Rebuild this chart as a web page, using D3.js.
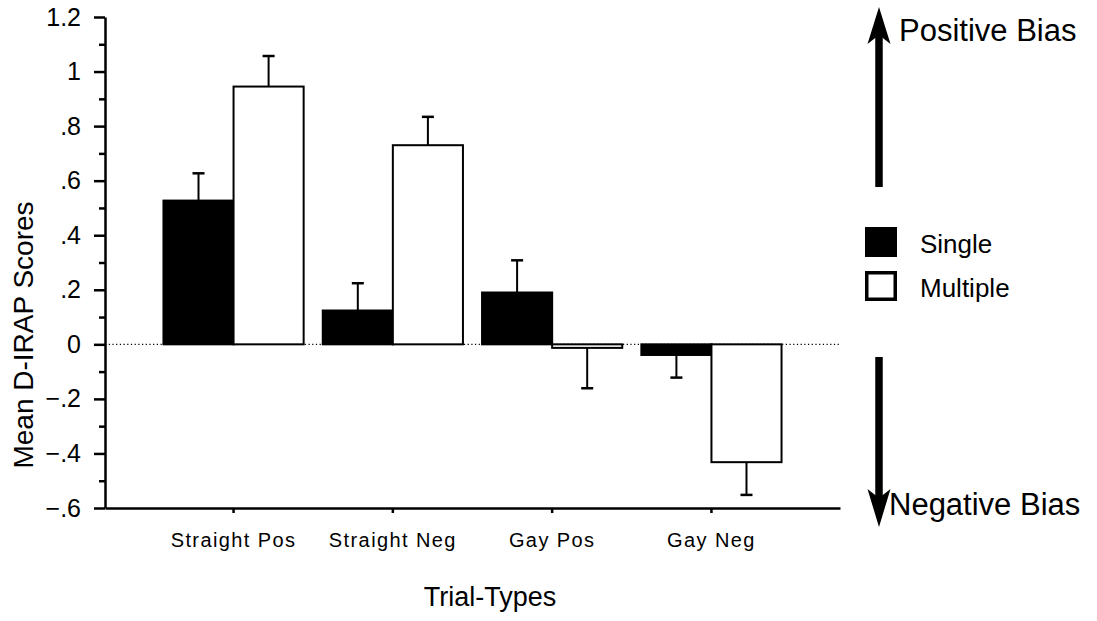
<!DOCTYPE html>
<html>
<head>
<meta charset="utf-8">
<script src="https://cdn.jsdelivr.net/npm/d3@7"></script>
<style>
  body { margin: 0; background: #fff; }
  text { font-family: "Liberation Sans", Arial, sans-serif; fill: #000; }
</style>
</head>
<body>
<div id="chart"></div>
<script>
// data
var categories = ["Straight Pos", "Straight Neg", "Gay Pos", "Gay Neg"];
var series = ["Single", "Multiple"];
var singleMeans = [0.527, 0.124, 0.19, -0.039];
var singleErr = [0.10, 0.10, 0.118, 0.083];
var multipleMeans = [0.945, 0.73, -0.013, -0.432];
var multipleErr = [0.112, 0.104, 0.148, 0.12];
var yTicks = [-0.6, -0.4, -0.2, 0, 0.2, 0.4, 0.6, 0.8, 1, 1.2];
var yMinorTicks = [-0.5, -0.3, -0.1, 0.1, 0.3, 0.5, 0.7, 0.9, 1.1];

var width = 1097, height = 621;
var plotLeft = 105, plotRight = 840, plotTop = 17, plotBottom = 508;

var svg = d3.select("#chart").append("svg")
    .attr("width", width)
    .attr("height", height);

// scales
var x0 = d3.scaleBand()
    .domain(categories)
    .range([plotLeft, plotRight])
    .paddingInner(0.12)
    .paddingOuter(0.367);
var x1 = d3.scaleBand()
    .domain(series)
    .range([0, x0.bandwidth()]);
var y = d3.scaleLinear()
    .domain([-0.6, 1.2])
    .range([plotBottom, plotTop]);

var fmt = function(d) {
  if (d === 0) return "0";
  var s = d3.format("")(+d.toFixed(1));
  return s.replace("0.", ".");
};

// build rows
var rows = [];
categories.forEach(function(c, i) {
  rows.push({cat: c, ser: "Single", v: singleMeans[i], e: singleErr[i]});
  rows.push({cat: c, ser: "Multiple", v: multipleMeans[i], e: multipleErr[i]});
});

function cx(d) { return x0(d.cat) + x1(d.ser) + x1.bandwidth() / 2; }
function errEnd(d) { return y(d.v >= 0 ? d.v + d.e : d.v - d.e); }

// zero line (dotted)
svg.append("line")
    .attr("x1", plotLeft).attr("x2", plotRight)
    .attr("y1", y(0)).attr("y2", y(0))
    .attr("stroke", "#000")
    .attr("stroke-width", 1.2)
    .attr("stroke-dasharray", "1.2,2.5");

// error bars (one-sided, away from zero)
var eb = svg.append("g").selectAll("g.err")
    .data(rows)
  .enter().append("g")
    .attr("class", "err");
eb.append("line")
    .attr("x1", cx).attr("x2", cx)
    .attr("y1", function(d) { return y(d.v); })
    .attr("y2", errEnd)
    .attr("stroke", "#000").attr("stroke-width", 2);
eb.append("line")
    .attr("x1", function(d) { return cx(d) - 6; })
    .attr("x2", function(d) { return cx(d) + 6; })
    .attr("y1", errEnd).attr("y2", errEnd)
    .attr("stroke", "#000").attr("stroke-width", 2.5);

// bars
svg.append("g").selectAll("rect.bar")
    .data(rows)
  .enter().append("rect")
    .attr("class", "bar")
    .attr("x", function(d) { return x0(d.cat) + x1(d.ser); })
    .attr("width", x1.bandwidth())
    .attr("y", function(d) { return y(Math.max(0, d.v)); })
    .attr("height", function(d) { return Math.abs(y(d.v) - y(0)); })
    .attr("fill", function(d) { return d.ser === "Single" ? "#000" : "#fff"; })
    .attr("stroke", "#000")
    .attr("stroke-width", 2);

// y axis, minor ticks
svg.append("g")
    .attr("transform", "translate(" + plotLeft + ",0)")
    .call(d3.axisLeft(y).tickValues(yMinorTicks).tickSize(6).tickSizeOuter(0).tickFormat(""))
    .call(function(g) { g.select(".domain").remove(); })
    .selectAll("line").attr("stroke-width", 2.5);

// y axis, major ticks
var yAxis = svg.append("g")
    .attr("transform", "translate(" + plotLeft + ",0)")
    .call(d3.axisLeft(y).tickValues(yTicks).tickSize(11).tickSizeOuter(0).tickPadding(13).tickFormat(fmt));
yAxis.select(".domain").attr("stroke-width", 2.5);
yAxis.selectAll("line").attr("stroke-width", 2.5);
yAxis.selectAll("text")
    .style("font-family", "Liberation Sans, Arial, sans-serif")
    .style("font-size", "25px");

// x axis
var xAxis = svg.append("g")
    .attr("transform", "translate(0," + plotBottom + ")")
    .call(d3.axisBottom(x0).tickSize(5).tickSizeOuter(0).tickPadding(20));
xAxis.select(".domain").attr("stroke-width", 2.5);
xAxis.selectAll("line").attr("stroke-width", 2.5);
xAxis.selectAll("text")
    .style("font-family", "Liberation Sans, Arial, sans-serif")
    .style("font-size", "20px")
    .style("letter-spacing", "1.4px");

// axis titles
svg.append("text")
    .attr("x", 490)
    .attr("y", 606)
    .attr("text-anchor", "middle")
    .style("font-size", "27px")
    .text("Trial-Types");

svg.append("text")
    .attr("transform", "translate(33,335) rotate(-90)")
    .attr("text-anchor", "middle")
    .style("font-size", "28px")
    .text("Mean D-IRAP Scores");

// legend
var legend = svg.append("g");
series.forEach(function(s, i) {
  var ly = 227 + i * 44;
  legend.append("rect")
      .attr("x", 866.75).attr("y", ly + 1.75)
      .attr("width", 28.5).attr("height", 26.5)
      .attr("fill", s === "Single" ? "#000" : "#fff")
      .attr("stroke", "#000")
      .attr("stroke-width", 3.5);
  legend.append("text")
      .attr("x", 920).attr("y", ly + 26)
      .style("font-size", "26px")
      .text(s);
});

// bias arrows
var ax = 879;
svg.append("line")
    .attr("x1", ax).attr("x2", ax)
    .attr("y1", 187).attr("y2", 34)
    .attr("stroke", "#000").attr("stroke-width", 7.5);
svg.append("path")
    .attr("d", "M" + ax + ",7 L" + (ax + 11.5) + ",44 L" + ax + ",35 L" + (ax - 11.5) + ",44 Z")
    .attr("fill", "#000");
svg.append("line")
    .attr("x1", ax).attr("x2", ax)
    .attr("y1", 357).attr("y2", 500)
    .attr("stroke", "#000").attr("stroke-width", 7.5);
svg.append("path")
    .attr("d", "M" + ax + ",527 L" + (ax + 11.5) + ",489 L" + ax + ",498 L" + (ax - 11.5) + ",489 Z")
    .attr("fill", "#000");

svg.append("text")
    .attr("x", 899).attr("y", 41)
    .style("font-size", "31px")
    .text("Positive Bias");
svg.append("text")
    .attr("x", 889).attr("y", 515)
    .style("font-size", "31px")
    .text("Negative Bias");
</script>
</body>
</html>
